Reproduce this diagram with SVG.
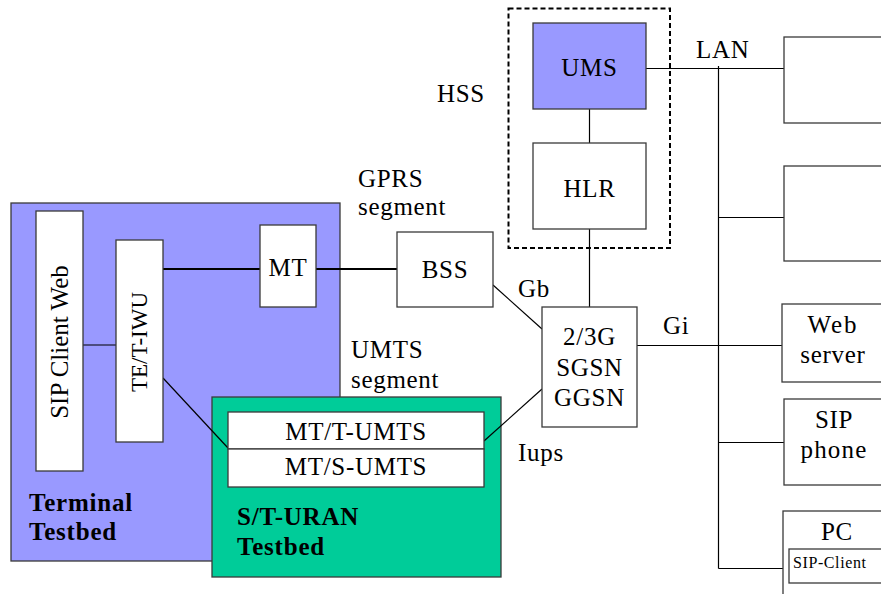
<svg xmlns="http://www.w3.org/2000/svg" width="881" height="594" viewBox="0 0 881 594" font-family="'Liberation Serif', 'DejaVu Serif', serif">
  <style>
    .box { fill: #ffffff; stroke: #3a3a3a; stroke-width: 1.3; }
    .lbl { font-family: 'Liberation Serif', 'DejaVu Serif', serif; font-size: 25px; fill: #000; letter-spacing: 0.7px; }
    .mid { text-anchor: middle; }
    .bold { font-weight: bold; letter-spacing: 0.8px; }
    .wire { stroke: #000; stroke-width: 1.2; fill: none; }
    .thick { stroke-width: 2; }
  </style>

  <!-- Terminal testbed area -->
  <g id="terminal-testbed">
    <rect x="11" y="203" width="329" height="358" fill="#9999ff" stroke="#3a3a3a" stroke-width="1.3"/>
    <text class="lbl bold" x="29" y="511">Terminal</text>
    <text class="lbl bold" x="29" y="540">Testbed</text>
  </g>

  <!-- S/T-URAN testbed area -->
  <g id="uran-testbed">
    <rect x="212" y="397" width="289" height="180" fill="#00cc99" stroke="#3a3a3a" stroke-width="1.3"/>
    <text class="lbl bold" x="237" y="525">S/T-URAN</text>
    <text class="lbl bold" x="237" y="555">Testbed</text>
  </g>

  <!-- HSS boundary -->
  <g id="hss">
    <rect x="508.5" y="8.5" width="161.5" height="239.5" fill="none" stroke="#000" stroke-width="2" stroke-dasharray="5 3"/>
    <text class="lbl" x="437" y="102">HSS</text>
  </g>

  <!-- Connectors -->
  <g id="connectors">
    <line class="wire" x1="83" y1="345" x2="116" y2="345"/>
    <line class="wire thick" x1="163" y1="269" x2="260" y2="269"/>
    <line class="wire thick" x1="316" y1="269" x2="397" y2="269"/>
    <line class="wire" x1="163" y1="378" x2="228" y2="448"/>
    <line class="wire" x1="484" y1="441" x2="542" y2="389"/>
    <line class="wire" x1="493" y1="285" x2="542" y2="329"/>
    <line class="wire" x1="589.5" y1="109" x2="589.5" y2="143"/>
    <line class="wire" x1="589.5" y1="229" x2="589.5" y2="307"/>
    <!-- LAN bus and its branches -->
    <line class="wire" x1="718.5" y1="66" x2="718.5" y2="568.5"/>
    <line class="wire" x1="646" y1="68.5" x2="784" y2="68.5"/>
    <line class="wire" x1="718.5" y1="217.5" x2="784" y2="217.5"/>
    <line class="wire" x1="637" y1="345.5" x2="782" y2="345.5"/>
    <line class="wire" x1="718.5" y1="442.5" x2="784" y2="442.5"/>
    <line class="wire" x1="718.5" y1="568.5" x2="783" y2="568.5"/>
  </g>

  <!-- Segment / interface labels -->
  <g id="labels">
    <text class="lbl" x="358" y="187">GPRS</text>
    <text class="lbl" x="358" y="215">segment</text>
    <text class="lbl" x="351" y="358">UMTS</text>
    <text class="lbl" x="351" y="388">segment</text>
    <text class="lbl" x="518" y="297">Gb</text>
    <text class="lbl" x="518" y="461">Iups</text>
    <text class="lbl" x="663" y="334">Gi</text>
    <text class="lbl" x="696" y="58">LAN</text>
  </g>

  <g id="sip-client-web">
    <rect class="box" x="36" y="211" width="47" height="260"/>
    <text class="lbl mid" transform="translate(68,342) rotate(-90)" x="0" y="0" style="letter-spacing:0">SIP Client Web</text>
  </g>

  <g id="te-t-iwu">
    <rect class="box" x="116" y="240" width="47" height="202"/>
    <text class="lbl mid" transform="translate(147,342) rotate(-90)" x="0" y="0" style="font-size:23px;letter-spacing:0">TE/T-IWU</text>
  </g>

  <g id="mt">
    <rect class="box" x="260" y="225" width="56" height="82"/>
    <text class="lbl mid" x="288" y="276">MT</text>
  </g>

  <g id="mt-t-umts">
    <rect class="box" x="228" y="412" width="256" height="37"/>
    <text class="lbl mid" x="356" y="440">MT/T-UMTS</text>
  </g>

  <g id="mt-s-umts">
    <rect class="box" x="228" y="449" width="256" height="38"/>
    <text class="lbl mid" x="356" y="475">MT/S-UMTS</text>
  </g>

  <g id="bss">
    <rect class="box" x="397" y="232" width="96" height="75"/>
    <text class="lbl mid" x="445" y="278">BSS</text>
  </g>

  <g id="ums">
    <rect x="533" y="23" width="113" height="86" fill="#9999ff" stroke="#3a3a3a" stroke-width="1.3"/>
    <text class="lbl mid" x="589.5" y="76">UMS</text>
  </g>

  <g id="hlr">
    <rect class="box" x="533" y="143" width="113" height="86"/>
    <text class="lbl mid" x="589.5" y="197">HLR</text>
  </g>

  <g id="sgsn-ggsn">
    <rect class="box" x="542" y="307" width="95" height="120"/>
    <text class="lbl mid" x="589.5" y="345">2/3G</text>
    <text class="lbl mid" x="589.5" y="376">SGSN</text>
    <text class="lbl mid" x="589.5" y="406">GGSN</text>
  </g>

  <g id="lan-host-1">
    <rect class="box" x="784" y="37" width="120" height="86"/>
  </g>

  <g id="lan-host-2">
    <rect class="box" x="784" y="166" width="120" height="95"/>
  </g>

  <g id="web-server">
    <rect class="box" x="782" y="304" width="120" height="78"/>
    <text class="lbl mid" x="833" y="333" style="letter-spacing:2px">Web</text>
    <text class="lbl mid" x="833" y="363">server</text>
  </g>

  <g id="sip-phone">
    <rect class="box" x="784" y="399" width="120" height="86"/>
    <text class="lbl mid" x="834" y="428">SIP</text>
    <text class="lbl mid" x="834" y="458" style="letter-spacing:1.2px">phone</text>
  </g>

  <g id="pc">
    <rect class="box" x="783" y="511" width="120" height="100"/>
    <text class="lbl mid" x="837" y="540">PC</text>
    <rect class="box" x="789" y="549" width="110" height="34"/>
    <text class="lbl" x="793" y="568" style="font-size:16px;letter-spacing:0.6px">SIP-Client</text>
  </g>
</svg>
